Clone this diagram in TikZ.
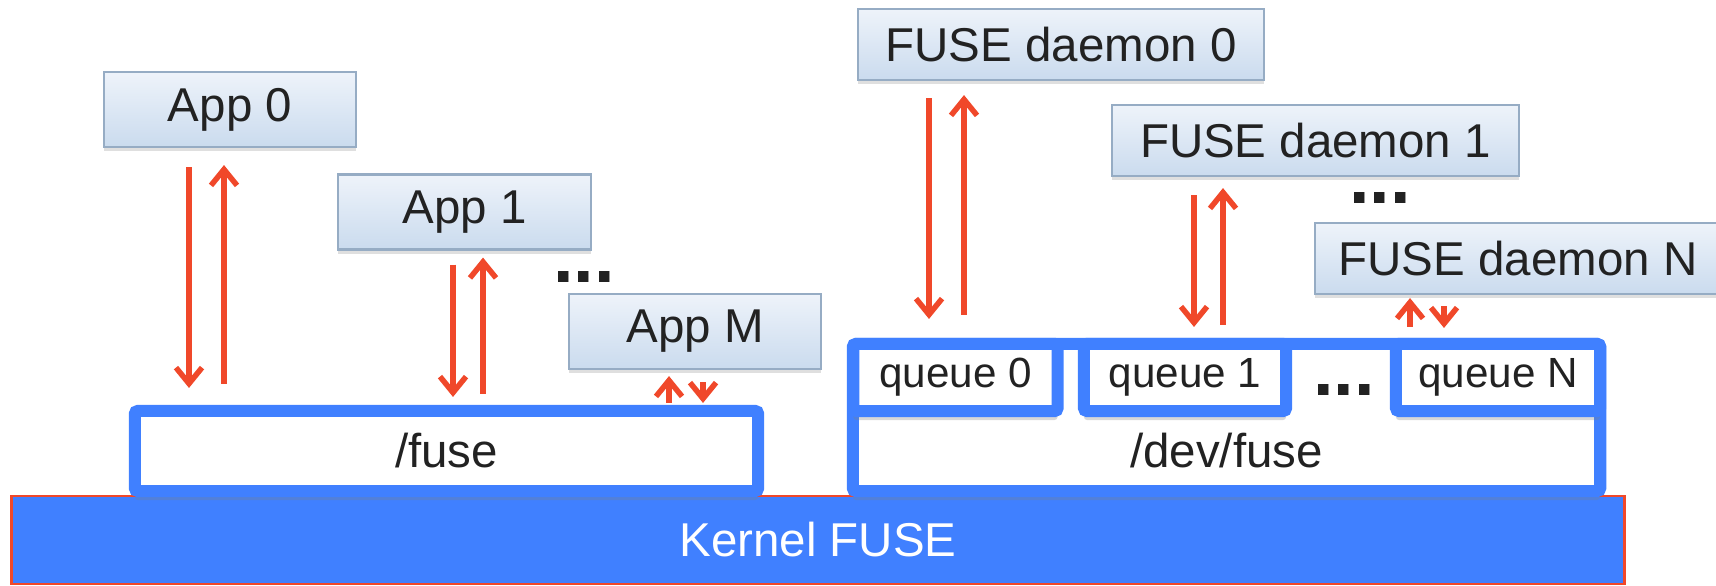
\documentclass[tikz,border=0pt]{standalone}
\usepackage{fontspec}
\setmainfont{Liberation Sans}
\usetikzlibrary{arrows.meta,calc,shadows}
\definecolor{fuseblue}{RGB}{64,128,255}
\definecolor{flowred}{RGB}{240,72,42}
\definecolor{appedge}{RGB}{150,172,196}
\definecolor{apptop}{RGB}{238,243,250}
\definecolor{appbottom}{RGB}{202,219,238}
\definecolor{txtgray}{RGB}{34,34,34}
\begin{document}
\begin{tikzpicture}[
				x=0.01cm, y=-0.01cm,
				font=\fontsize{13.5}{16}\selectfont,
				text=txtgray,
				proc/.style={draw=appedge, line width=0.6pt, top color=apptop, bottom color=appbottom,
					inner sep=0pt, minimum height=0.75cm,
					drop shadow={shadow xshift=0cm, shadow yshift=-0.04cm, opacity=0.25}},
				app/.style={proc, minimum width=2.52cm},
				daemon/.style={proc, minimum width=4.06cm, minimum height=0.71cm},
				dev/.style={draw=fuseblue, line width=0.12cm, fill=white, rounded corners=0.03cm, inner sep=0pt,
					drop shadow={shadow xshift=0cm, shadow yshift=-0.09cm, opacity=0.3}},
				queue/.style={dev, minimum width=2.04cm, minimum height=0.67cm, font=\fontsize{12}{14}\selectfont},
				more/.style={anchor=base, inner sep=0pt, text height=0.12cm, text depth=0pt,
					font=\fontsize{21}{21}\selectfont\bfseries},
				flow/.style={draw=flowred, line width=0.055cm, -{Straight Barb[length=0.16cm, width=0.26cm]}},
				]
				\useasboundingbox (0,0) rectangle (1716,586);
				\node [draw=flowred, line width=0.6pt, fill=fuseblue, text=white, minimum width=16.12cm, minimum height=0.88cm] (kernel) at (818,540) {Kernel FUSE};
				\node [dev, minimum width=6.23cm, minimum height=0.80cm] (fuse) at (446.5,451) {/fuse};
				\node [dev, minimum width=7.47cm, minimum height=1.47cm] (devfuse) at (1226.5,417.5) {};
				\node (devlbl) at ($(devfuse.south)+(0,-47)$) {/dev/fuse};
				\node [queue] (q0) at (955.5,377.5) {queue 0};
				\node [queue, minimum width=2.02cm] (q1) at (1185,377.5) {queue 1};
				\node [queue] (qn) at (1498,377.5) {queue N};
				\node [more] (qdots) at (1344,396) {...};
				\node [app] (app0) at (230,109.5) {App 0};
				\node [app] (app1) at (464.5,212) {App 1};
				\node [app] (appm) at (695,331.5) {App M};
				\node [more] (appdots) at (584,283) {...};
				\node [daemon] (fd0) at (1061,44.5) {FUSE daemon 0};
				\node [daemon] (fd1) at (1315.5,140.5) {FUSE daemon 1};
				\node [daemon] (fdn) at (1518,258.5) {FUSE daemon N};
				\node [more] (fddots) at (1380,204) {...};
				\draw [flow] ($(app0.south)+(-41,19)$) -- ($(app0.south |- fuse.north)+(-41,-17)$);
				\draw [flow] ($(app0.south |- fuse.north)+(-6,-21)$) -- ($(app0.south)+(-6,17)$);
				\draw [flow] ($(app1.south)+(-11.5,14)$) -- ($(app1.south |- fuse.north)+(-11.5,-8)$);
				\draw [flow] ($(app1.south |- fuse.north)+(18.5,-11)$) -- ($(app1.south)+(18.5,7)$);
				\draw [flow] ($(appm.south |- fuse.north)+(-26,-2)$) -- ($(appm.south)+(-26,6)$);
				\draw [flow] ($(appm.south)+(8,12)$) -- ($(appm.south |- fuse.north)+(8,-2)$);
				\draw [flow] ($(fd0.south)+(-132,17)$) -- ($(fd0.south |- q0.north)+(-132,-19)$);
				\draw [flow] ($(fd0.south |- q0.north)+(-97,-23)$) -- ($(fd0.south)+(-97,14)$);
				\draw [flow] ($(fd1.south)+(-121.5,18)$) -- ($(fd1.south |- q1.north)+(-121.5,-11)$);
				\draw [flow] ($(fd1.south |- q1.north)+(-92.5,-13)$) -- ($(fd1.south)+(-92.5,11)$);
				\draw [flow] ($(fdn.south |- qn.north)+(-108,-11)$) -- ($(fdn.south)+(-108,3)$);
				\draw [flow] ($(fdn.south)+(-74,11)$) -- ($(fdn.south |- qn.north)+(-74,-10)$);
\end{tikzpicture}
\end{document}
